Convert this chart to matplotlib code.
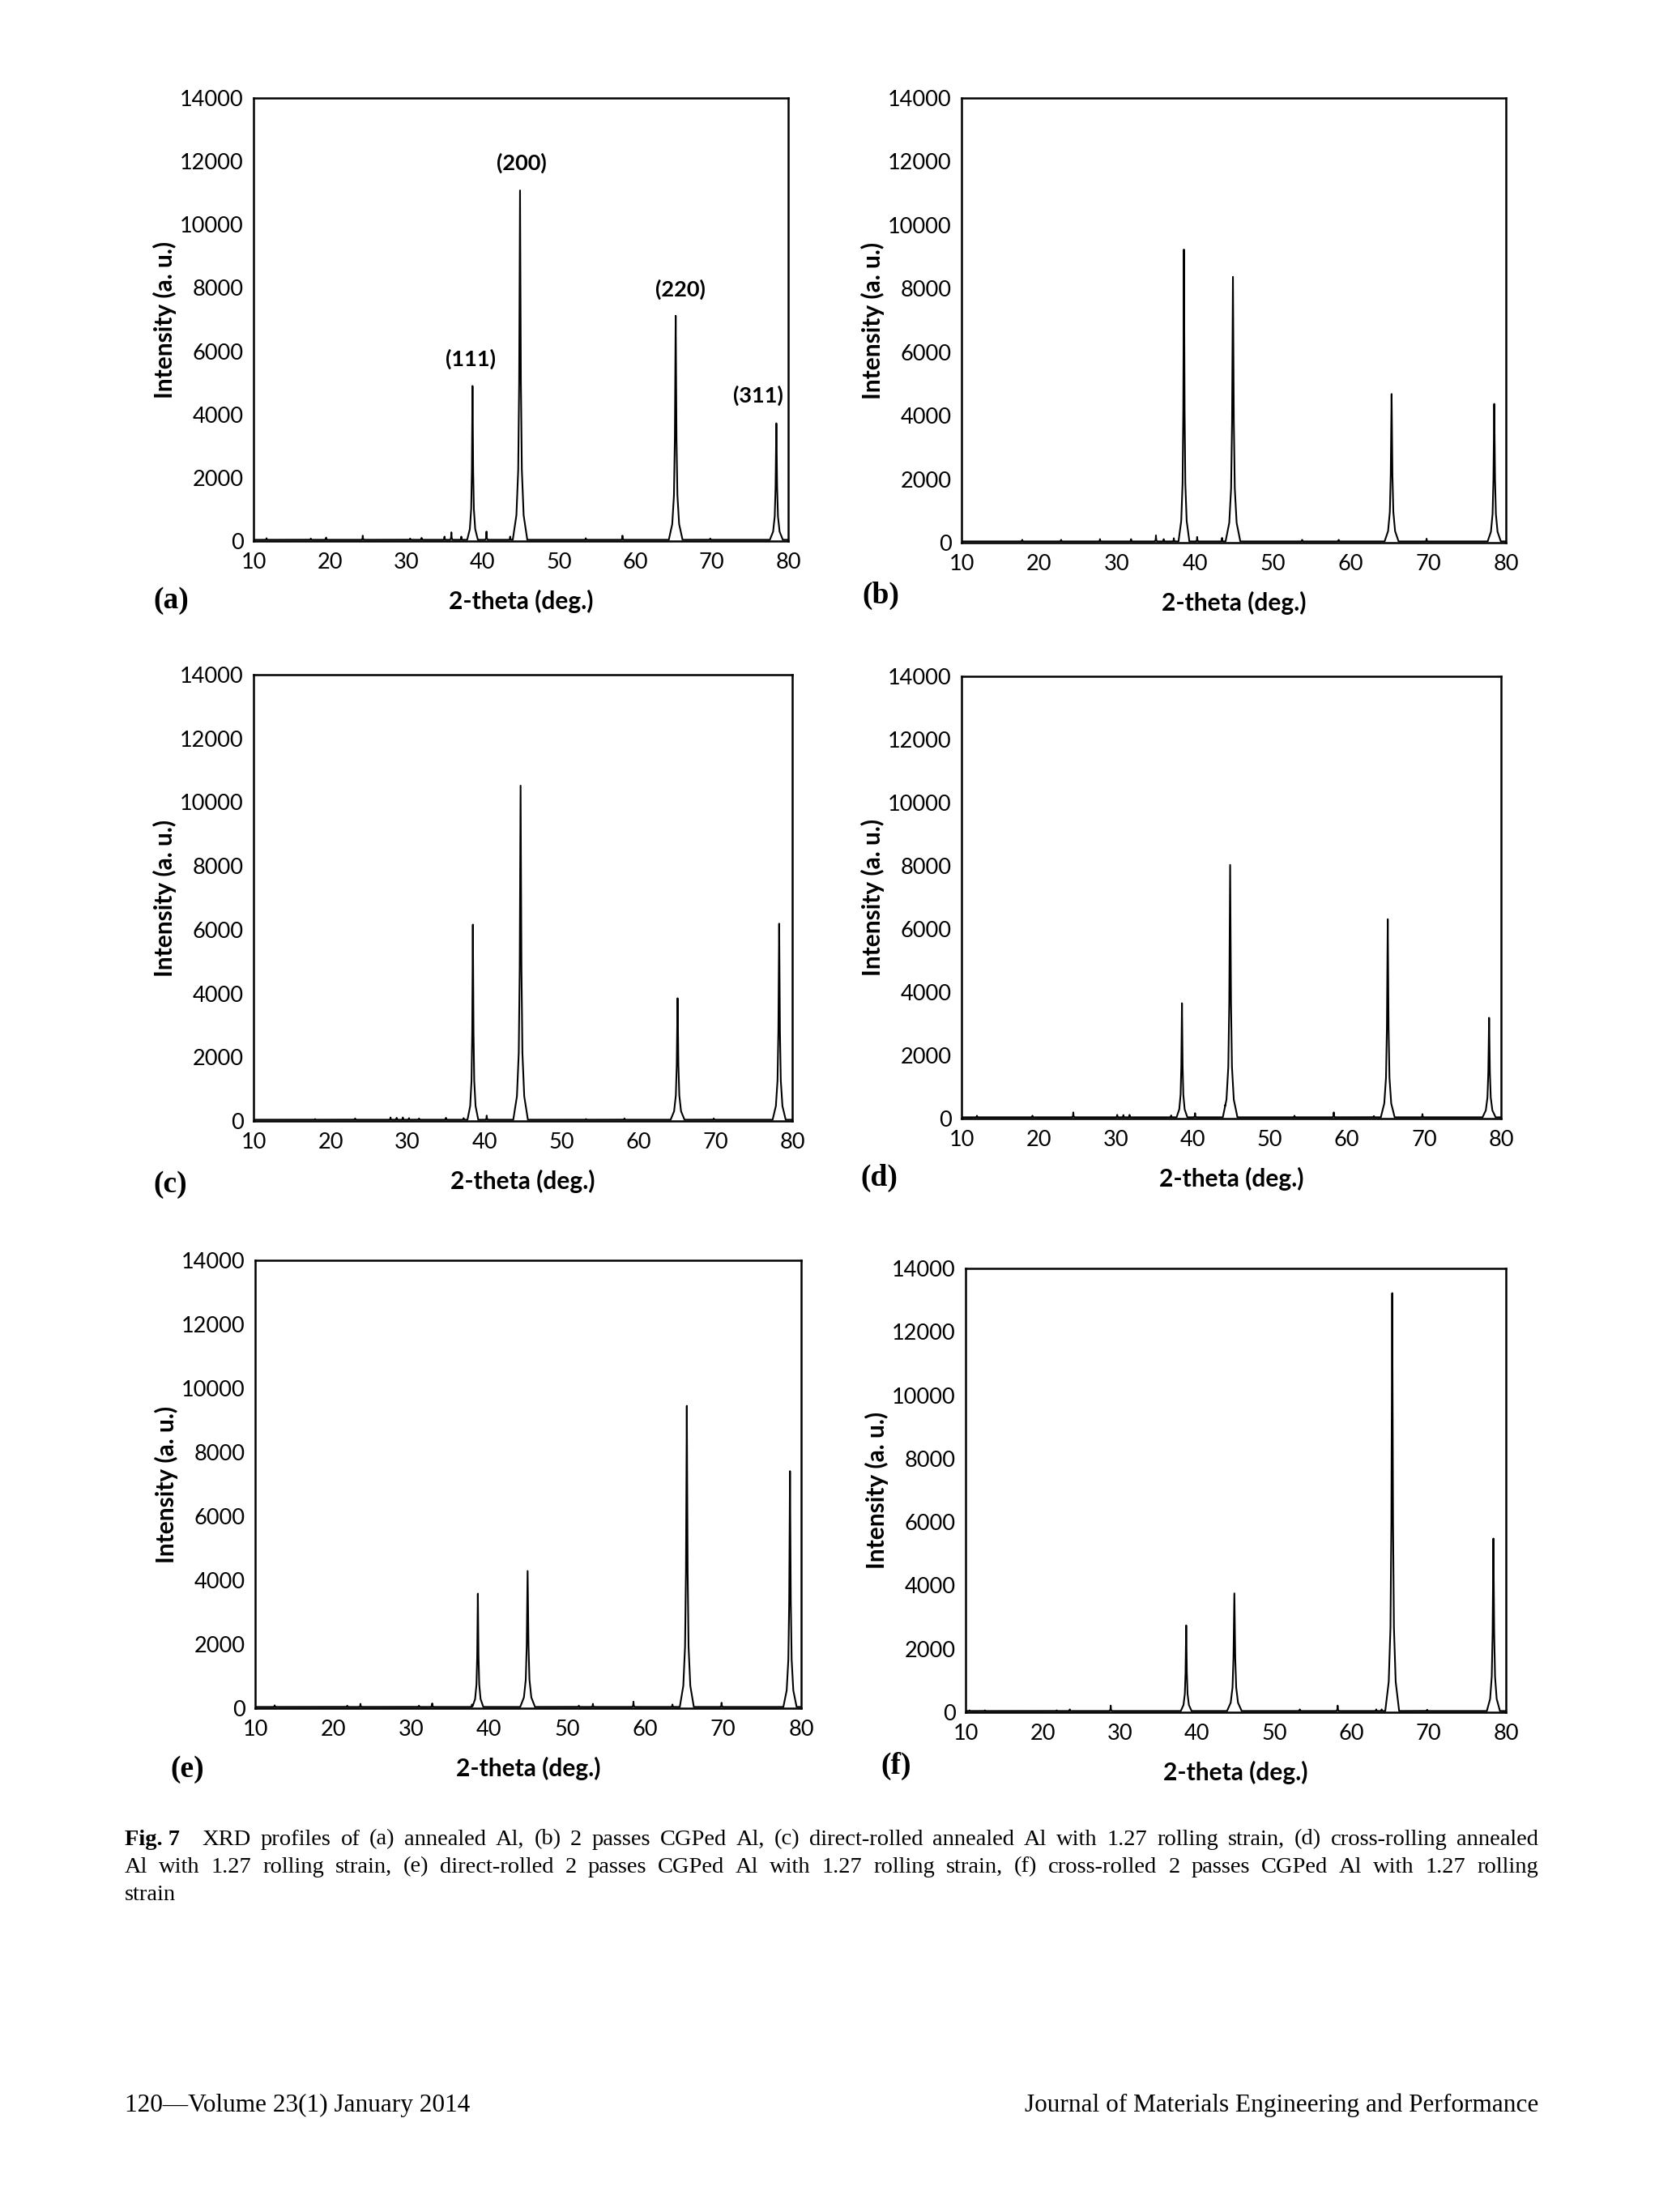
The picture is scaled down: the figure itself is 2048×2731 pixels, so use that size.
import numpy as np
import matplotlib
matplotlib.use('Agg')
from matplotlib import pyplot as plt

W, H = 2048, 2731

# axis ticks
theta_ticks = [10, 20, 30, 40, 50, 60, 70, 80]
intensity_ticks = [0, 2000, 4000, 6000, 8000, 10000, 12000, 14000]

# reflection labels drawn on panel (a)
hkl_labels = ['(111)', '(200)', '(220)', '(311)']
hkl_label_x = [38.4, 45.1, 65.9, 76.1]
hkl_label_y = [5750, 11950, 7950, 4600]

# foot half-width of the Al reflections (deg.)
main_width = [0.7, 0.95, 0.9, 0.85]

# (a) annealed Al
peak_pos_a = [38.67, 44.89, 65.27, 78.45]
peak_height_a = [4900, 11080, 7120, 3720]
minor_pos_a = [11.7, 17.5, 19.5, 24.3, 30.5, 32.0, 35.0, 35.9, 37.2, 40.5, 43.6, 53.5, 58.3, 69.8]
minor_height_a = [90, 80, 110, 170, 80, 100, 140, 275, 140, 300, 140, 90, 170, 80]

# (b) 2 passes CGPed Al
peak_pos_b = [38.6, 44.9, 65.3, 78.5]
peak_height_b = [9230, 8370, 4680, 4370]
minor_pos_b = [17.8, 22.8, 27.8, 31.8, 35.0, 36.0, 37.3, 40.3, 43.5, 53.8, 58.5, 69.8]
minor_height_b = [90, 90, 110, 110, 230, 110, 140, 180, 150, 90, 90, 125]

# (c) direct-rolled annealed Al
peak_pos_c = [38.5, 44.7, 65.1, 78.3]
peak_height_c = [6160, 10520, 3850, 6190]
minor_pos_c = [18.0, 23.2, 27.8, 28.6, 29.4, 30.2, 31.5, 35.0, 37.3, 40.3, 53.2, 58.2, 69.8]
minor_height_c = [60, 80, 110, 100, 110, 90, 80, 100, 90, 170, 60, 80, 80]

# (d) cross-rolled annealed Al
peak_pos_d = [38.6, 44.85, 65.3, 78.45]
peak_height_d = [3650, 8030, 6310, 3190]
minor_pos_d = [12.0, 19.2, 24.5, 30.2, 31.0, 31.8, 37.2, 40.3, 44.2, 53.2, 58.3, 63.5, 69.8]
minor_height_d = [90, 90, 195, 115, 110, 115, 100, 170, 425, 90, 195, 80, 140]

# (e) direct-rolled 2 passes CGPed Al
peak_pos_e = [38.55, 44.93, 65.34, 78.57]
peak_height_e = [3580, 4290, 9450, 7410]
minor_pos_e = [12.5, 21.8, 23.5, 31.0, 32.7, 37.8, 51.5, 53.3, 58.5, 63.5, 69.8]
minor_height_e = [90, 80, 135, 80, 150, 115, 80, 135, 205, 115, 170]

# (f) cross-rolled 2 passes CGPed Al
peak_pos_f = [38.58, 44.82, 65.27, 78.38]
peak_height_f = [2740, 3750, 13220, 5480]
minor_pos_f = [10.5, 12.5, 21.8, 23.5, 28.8, 53.3, 58.2, 63.2, 63.9, 69.8]
minor_height_f = [60, 60, 60, 90, 210, 90, 210, 90, 90, 80]

baseline = 40

# peak outline: offsets in units of foot half-width, and fraction of peak height
shape_off = np.array([-1.0, -0.5, -0.25, -0.12, -0.05, 0.0, 0.05, 0.12, 0.25, 0.5, 1.0])
shape_frac = np.array([0.0, 0.07, 0.2, 0.45, 0.75, 1.0, 0.75, 0.45, 0.2, 0.07, 0.0])


def profile(pos, height, widths):
    xs = [np.array([10.0, 80.0])]
    for p, w in zip(pos, widths):
        xs.append(p + shape_off * w)
    x = np.unique(np.clip(np.concatenate(xs), 10, 80))
    y = np.zeros_like(x)
    for p, h, w in zip(pos, height, widths):
        y = np.maximum(y, np.interp(x, p + shape_off * w, shape_frac * (h - baseline), left=0, right=0))
    return x, y + baseline


def drawPanel(fig, box, pos, height, mpos, mheight):
    x0, y0, x1, y1 = box
    ax = fig.add_axes([x0 / W, 1 - y1 / H, (x1 - x0) / W, (y1 - y0) / H])
    x, y = profile(list(pos) + list(mpos), list(height) + list(mheight),
                   main_width + [0.22] * len(mpos))
    ax.plot(x, y, color='black', lw=1.5)
    ax.set_xlim(10, 80)
    ax.set_ylim(0, 14000)
    ax.set_xticks(theta_ticks)
    ax.set_yticks(intensity_ticks)
    ax.tick_params(length=0, labelsize=19.5)
    ax.tick_params(axis='x', pad=10)
    ax.tick_params(axis='y', pad=9)
    for lab in ax.get_xticklabels() + ax.get_yticklabels():
        lab.set_family('Lato')
    for s in ax.spines.values():
        s.set_linewidth(1.8)
    ax.set_xlabel('2-theta (deg.)', fontsize=21.5, family='Lato', fontweight='bold', labelpad=15)
    ax.set_ylabel('Intensity (a. u.)', fontsize=21.5, family='Lato', fontweight='bold', labelpad=3)
    return ax


def justify(fig, tokens, x0, x1, y, size, extra=0):
    r = fig.canvas.get_renderer()
    texts = [fig.text(0, 1 - y / H, t, fontsize=size, family='Liberation Serif',
                      fontweight=wt, va='center', ha='left') for t, wt in tokens]
    widths = [t.get_window_extent(r).width for t in texts]
    gap = (x1 - x0 - sum(widths) - extra) / (len(texts) - 1)
    x = x0
    for i, (t, w) in enumerate(zip(texts, widths)):
        t.set_x(x / W)
        x += w + gap + (extra if i == 0 else 0)


fig = plt.figure(figsize=(W / 100, H / 100), dpi=100)

panels = [
    ((313, 121, 973, 668), peak_pos_a, peak_height_a, minor_pos_a, minor_height_a, '(a)', (189, 742)),
    ((1187, 121, 1859, 670), peak_pos_b, peak_height_b, minor_pos_b, minor_height_b, '(b)', (1064, 735)),
    ((313, 833, 978, 1384), peak_pos_c, peak_height_c, minor_pos_c, minor_height_c, '(c)', (189, 1463)),
    ((1187, 835, 1853, 1381), peak_pos_d, peak_height_d, minor_pos_d, minor_height_d, '(d)', (1062, 1454)),
    ((315, 1556, 989, 2109), peak_pos_e, peak_height_e, minor_pos_e, minor_height_e, '(e)', (210, 2184)),
    ((1192, 1566, 1859, 2114), peak_pos_f, peak_height_f, minor_pos_f, minor_height_f, '(f)', (1087, 2180)),
]

axes = []
for box, pos, hgt, mpos, mhgt, tag, tagxy in panels:
    axes.append(drawPanel(fig, box, pos, hgt, mpos, mhgt))
    fig.text(tagxy[0] / W, 1 - tagxy[1] / H, tag, fontsize=27, family='Liberation Serif',
             fontweight='bold', ha='left', va='center')

for lab, lx, ly in zip(hkl_labels, hkl_label_x, hkl_label_y):
    axes[0].text(lx, ly, lab, fontsize=19.5, family='Lato', fontweight='bold', ha='center', va='center')

line1 = 'XRD profiles of (a) annealed Al, (b) 2 passes CGPed Al, (c) direct-rolled annealed Al with 1.27 rolling strain, (d) cross-rolling annealed'
line2 = 'Al with 1.27 rolling strain, (e) direct-rolled 2 passes CGPed Al with 1.27 rolling strain, (f) cross-rolled 2 passes CGPed Al with 1.27 rolling'
cap_size = 20.5
foot_size = 22.5
justify(fig, [('Fig. 7', 'bold')] + [(w, 'normal') for w in line1.split()], 154, 1899, 2271, cap_size, extra=16)
justify(fig, [(w, 'normal') for w in line2.split()], 154, 1899, 2305, cap_size)
fig.text(154 / W, 1 - 2340 / H, 'strain', fontsize=cap_size, family='Liberation Serif', va='center', ha='left')

fig.text(154 / W, 1 - 2599 / H, '120\u2014Volume 23(1) January 2014', fontsize=foot_size,
         family='Liberation Serif', va='center', ha='left')
fig.text(1899 / W, 1 - 2599 / H, 'Journal of Materials Engineering and Performance', fontsize=foot_size,
         family='Liberation Serif', va='center', ha='right')

fig.savefig('out.png', dpi=100, facecolor='white')
